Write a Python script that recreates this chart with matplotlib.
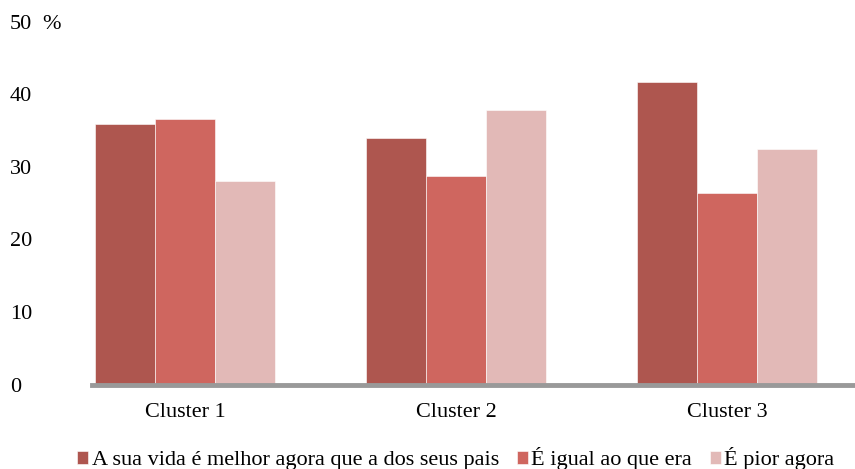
import matplotlib.pyplot as plt
import matplotlib.transforms as transforms
import numpy as np

plt.rcParams['font.family'] = ['Liberation Serif', 'DejaVu Serif']

clusters = ['Cluster 1', 'Cluster 2', 'Cluster 3']
series_names = ['A sua vida é melhor agora que a dos seus pais', 'É igual ao que era', 'É pior agora']
melhor = [36.0, 34.0, 41.8]
igual = [36.7, 28.8, 26.4]
pior = [28.1, 37.9, 32.5]
colors = ['#AE564F', '#CF665F', '#E2B9B7']
yticks = [0, 10, 20, 30, 40, 50]

fig = plt.figure(figsize=(8.55, 4.69), dpi=100)
ax = fig.add_axes([92 / 855, 1 - 385 / 469, 1 - 92 / 855, (385 - 22) / 469])

index = np.arange(len(clusters))
bar_width = 0.221
for i, (vals, name) in enumerate(zip([melhor, igual, pior], series_names)):
    ax.bar(index + (i - 1) * bar_width, vals, bar_width, color=colors[i], label=name,
           edgecolor='white', linewidth=0.4)

ax.set_xlim(-0.343, 2.472)
ax.set_ylim(0, 50)

for s in ['top', 'right', 'left']:
    ax.spines[s].set_visible(False)
ax.spines['bottom'].set_color('#999999')
ax.spines['bottom'].set_linewidth(3.5)

ax.set_xticks(index)
ax.set_xticklabels(clusters, fontsize=16, family='Liberation Serif')
ax.tick_params(axis='x', length=0, pad=13)
ax.set_yticks([])

trans = transforms.blended_transform_factory(fig.transFigure, ax.transData)
for t in yticks:
    ax.text(10 / 855, t - 0.3, '%d' % t, transform=trans, ha='left', va='center', fontsize=16)
ax.text(42 / 855, 49.7, '%', transform=trans, ha='left', va='center', fontsize=16)

fig.legend(loc='lower center', bbox_to_anchor=(0.533, -0.045), ncol=3, frameon=False,
           prop={'family': 'Liberation Serif', 'size': 16},
           handlelength=0.5, handleheight=0.5, handletextpad=0.15,
           columnspacing=0.8)

fig.savefig('out.png', dpi=100)
